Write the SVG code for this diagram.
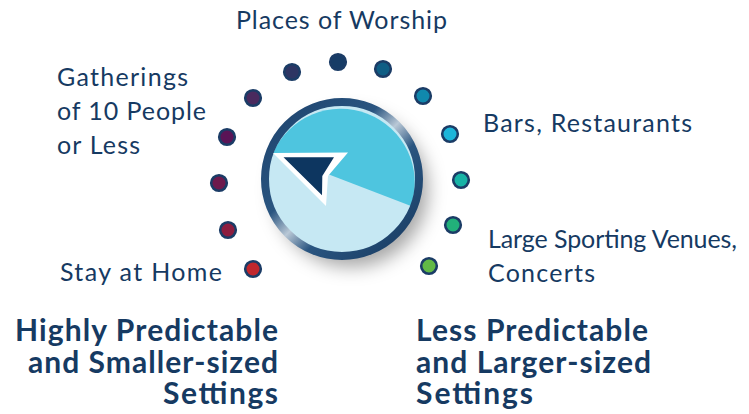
<svg xmlns="http://www.w3.org/2000/svg" width="749" height="414" viewBox="0 0 749 414">
<style>
.lbl{font-family:Lato,"Noto Sans",sans-serif;font-size:25px;fill:#163a62}
.big{font-family:Lato,"Noto Sans",sans-serif;font-size:30px;font-weight:bold;fill:#163a62}
.dot{stroke:#1b3c66;stroke-width:2.6}
</style>
<defs>
<filter id="sh" x="-40%" y="-40%" width="180%" height="180%">
<feDropShadow dx="9" dy="11" stdDeviation="9" flood-color="#000" flood-opacity="0.35"/>
</filter>
<linearGradient id="ring" x1="0" y1="0" x2="1" y2="1">
<stop offset="0" stop-color="#1d426c"/>
<stop offset="0.38" stop-color="#2a5580"/>
<stop offset="0.5" stop-color="#b9c8d6"/>
<stop offset="0.62" stop-color="#2a5580"/>
<stop offset="1" stop-color="#17395f"/>
</linearGradient>
</defs>
<rect width="749" height="414" fill="#fff"/>
<g id="dots">
<circle class="dot" cx="253" cy="269" r="7.8" fill="#c1272d"/>
<circle class="dot" cx="228" cy="230" r="7.8" fill="#8c1d3f"/>
<circle class="dot" cx="219" cy="183" r="7.8" fill="#6e1a4d"/>
<circle class="dot" cx="227" cy="137" r="7.8" fill="#5a1456"/>
<circle class="dot" cx="253" cy="98" r="7.8" fill="#4a2a5e"/>
<circle class="dot" cx="292" cy="72" r="7.8" fill="#2d3563"/>
<circle class="dot" cx="338" cy="62" r="7.8" fill="#173c66"/>
<circle class="dot" cx="383" cy="69" r="7.8" fill="#0f5e85"/>
<circle class="dot" cx="423" cy="96" r="7.8" fill="#1088ad"/>
<circle class="dot" cx="450" cy="134" r="7.8" fill="#1db5d9"/>
<circle class="dot" cx="461" cy="180" r="7.8" fill="#17b3a6"/>
<circle class="dot" cx="453" cy="225" r="7.8" fill="#22b07a"/>
<circle class="dot" cx="429" cy="266" r="7.8" fill="#62b946"/>
</g>
<g id="dial">
<circle cx="342" cy="179" r="77" fill="#c6e8f3" filter="url(#sh)"/>
<path d="M273,153 A74,74 0 0 1 411,206 Z" fill="#4ec5df"/>
<circle cx="342" cy="179" r="77" fill="none" stroke="url(#ring)" stroke-width="8"/>
<polygon points="273,153 348,152.5 328,176 326,206" fill="#fff"/>
<polygon points="283.5,157.3 334,157.3 322.3,176 322,195.3" fill="#0d3660"/>
</g>
<g id="labels">
<text class="lbl" x="236" y="29" textLength="211" lengthAdjust="spacing">Places of Worship</text>
<text class="lbl" x="57" y="86" textLength="131" lengthAdjust="spacing">Gatherings</text>
<text class="lbl" x="57" y="120" textLength="149" lengthAdjust="spacing">of 10 People</text>
<text class="lbl" x="57" y="154" textLength="83" lengthAdjust="spacing">or Less</text>
<text class="lbl" x="483" y="132" textLength="209" lengthAdjust="spacing">Bars, Restaurants</text>
<text class="lbl" x="488" y="248" textLength="249" lengthAdjust="spacing">Large Sporting Venues,</text>
<text class="lbl" x="488" y="282" textLength="107" lengthAdjust="spacing">Concerts</text>
<text class="lbl" x="60" y="281" textLength="162" lengthAdjust="spacing">Stay at Home</text>
</g>
<g id="left-caption">
<text class="big" x="15" y="341" textLength="263" lengthAdjust="spacing">Highly Predictable</text>
<text class="big" x="28" y="373" textLength="250" lengthAdjust="spacing">and Smaller-sized</text>
<text class="big" x="163" y="404" textLength="115" lengthAdjust="spacing">Settings</text>
</g>
<g id="right-caption">
<text class="big" x="416" y="341" textLength="232" lengthAdjust="spacing">Less Predictable</text>
<text class="big" x="416" y="373" textLength="235" lengthAdjust="spacing">and Larger-sized</text>
<text class="big" x="416" y="404" textLength="117" lengthAdjust="spacing">Settings</text>
</g>
</svg>
